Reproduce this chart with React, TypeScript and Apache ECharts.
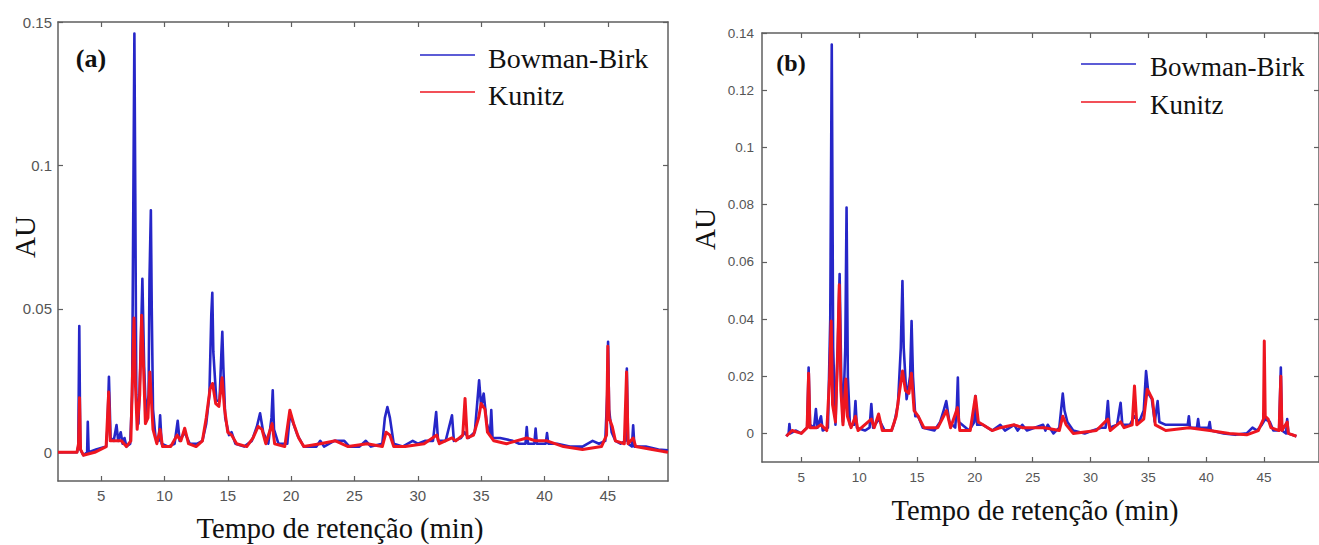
import React, { useEffect, useRef } from "react";
import * as echarts from "echarts";

// ---------- tick values ----------
const xTicks = [5, 10, 15, 20, 25, 30, 35, 40, 45];
const yTicksA = [0, 0.05, 0.1, 0.15];
const yTicksB = [0, 0.02, 0.04, 0.06, 0.08, 0.1, 0.12, 0.14];

// ---------- panel (a) ----------
const aBowmanBirk: [number, number][] = [
  [1.6, 0], [3.1, 0], [3.2, 0.002], [3.28, 0.044], [3.36, 0.001], [3.6, -0.001], [3.9, 0], [3.95, 0.0106], [4.02, 0],
  [4.6, 0.001], [5.4, 0.002], [5.5, 0.008], [5.62, 0.0263], [5.75, 0.005], [6.0, 0.004], [6.22, 0.0095], [6.35, 0.004],
  [6.55, 0.007], [6.7, 0.003], [6.85, 0.005], [7.0, 0.002], [7.3, 0.003], [7.45, 0.02], [7.55, 0.09], [7.63, 0.146],
  [7.7, 0.09], [7.78, 0.02], [7.95, 0.01], [8.1, 0.03], [8.26, 0.0605], [8.4, 0.03], [8.55, 0.012], [8.75, 0.02],
  [8.82, 0.06], [8.93, 0.0844], [9.0, 0.05], [9.1, 0.015], [9.3, 0.005], [9.55, 0.004], [9.66, 0.0129], [9.78, 0.003],
  [10.3, 0.002], [10.8, 0.003], [11.05, 0.011], [11.2, 0.004], [11.6, 0.007], [12.0, 0.003], [12.6, 0.003], [13.0, 0.004],
  [13.3, 0.01], [13.55, 0.02], [13.7, 0.048], [13.78, 0.0556], [13.86, 0.035], [14.1, 0.018], [14.35, 0.018], [14.5, 0.035],
  [14.57, 0.042], [14.65, 0.03], [14.8, 0.012], [15.1, 0.006], [15.3, 0.007], [15.6, 0.003], [16.3, 0.002], [16.9, 0.004],
  [17.3, 0.009], [17.55, 0.0136], [17.8, 0.007], [18.2, 0.003], [18.45, 0.012], [18.55, 0.0216], [18.65, 0.008], [19.0, 0.003],
  [19.7, 0.003], [19.9, 0.013], [20.1, 0.011], [20.5, 0.006], [21.0, 0.002], [22.0, 0.002], [22.3, 0.004], [22.6, 0.002],
  [23.4, 0.004], [23.8, 0.004], [24.2, 0.004], [24.6, 0.002], [25.4, 0.002], [25.9, 0.004], [26.3, 0.002], [27.2, 0.003],
  [27.4, 0.012], [27.6, 0.0158], [27.8, 0.012], [28.1, 0.003], [28.8, 0.002], [29.6, 0.004], [30.0, 0.003], [30.6, 0.004],
  [31.2, 0.004], [31.45, 0.014], [31.6, 0.004], [32.2, 0.004], [32.7, 0.0129], [32.85, 0.004], [33.4, 0.005], [33.7, 0.007],
  [34.0, 0.005], [34.5, 0.007], [34.84, 0.0251], [35.0, 0.016], [35.2, 0.0205], [35.45, 0.01], [35.7, 0.006], [35.8, 0.0147],
  [35.9, 0.005], [36.5, 0.005], [37.5, 0.004], [38.0, 0.003], [38.5, 0.003], [38.6, 0.0088], [38.7, 0.003], [39.2, 0.003],
  [39.3, 0.0083], [39.4, 0.003], [40.1, 0.003], [40.2, 0.0067], [40.3, 0.003], [41.0, 0.003], [42.0, 0.002], [43.0, 0.002],
  [43.8, 0.004], [44.3, 0.003], [44.8, 0.004], [44.95, 0.02], [45.02, 0.0385], [45.1, 0.015], [45.3, 0.007], [45.6, 0.004],
  [46.0, 0.003], [46.4, 0.004], [46.5, 0.0292], [46.6, 0.003], [46.9, 0.002], [47.0, 0.0094], [47.1, 0.002], [48.0, 0.002],
  [49.0, 0.001], [49.75, 0.0007],
];

const aKunitz: [number, number][] = [
  [1.6, 0], [3.1, 0], [3.22, 0.003], [3.3, 0.019], [3.38, 0.001], [3.6, -0.001], [4.5, 0], [5.4, 0.002], [5.6, 0.021],
  [5.72, 0.004], [6.2, 0.004], [6.6, 0.004], [7.0, 0.002], [7.35, 0.004], [7.5, 0.03], [7.6, 0.0468], [7.7, 0.025],
  [7.85, 0.008], [8.05, 0.02], [8.2, 0.0478], [8.35, 0.03], [8.5, 0.01], [8.7, 0.012], [8.85, 0.028], [8.95, 0.02],
  [9.1, 0.008], [9.4, 0.003], [9.66, 0.008], [9.85, 0.002], [10.5, 0.002], [11.0, 0.006], [11.3, 0.004], [11.6, 0.0084],
  [11.9, 0.003], [12.5, 0.002], [13.0, 0.004], [13.3, 0.012], [13.6, 0.022], [13.8, 0.024], [14.05, 0.017], [14.3, 0.016],
  [14.55, 0.026], [14.75, 0.015], [15.0, 0.007], [15.3, 0.006], [15.7, 0.003], [16.5, 0.002], [17.0, 0.005], [17.4, 0.009],
  [17.7, 0.008], [18.0, 0.003], [18.5, 0.01], [18.7, 0.003], [19.5, 0.002], [19.9, 0.0147], [20.2, 0.01], [20.6, 0.005],
  [21.0, 0.002], [22.3, 0.003], [23.5, 0.004], [24.5, 0.002], [26.0, 0.003], [27.2, 0.002], [27.5, 0.007], [27.8, 0.006],
  [28.1, 0.002], [29.0, 0.002], [30.5, 0.003], [31.5, 0.006], [31.7, 0.003], [32.7, 0.005], [33.0, 0.004], [33.55, 0.006],
  [33.73, 0.0188], [33.9, 0.005], [34.4, 0.006], [34.8, 0.012], [35.0, 0.017], [35.3, 0.015], [35.5, 0.007], [36.0, 0.004],
  [37.0, 0.003], [38.6, 0.005], [39.3, 0.004], [40.2, 0.004], [41.5, 0.002], [43.0, 0.001], [44.5, 0.002], [44.9, 0.006],
  [45.0, 0.037], [45.1, 0.012], [45.35, 0.009], [45.6, 0.004], [46.3, 0.003], [46.48, 0.028], [46.6, 0.003], [47.0, 0.005],
  [47.2, 0.002], [48.5, 0.001], [49.75, 0],
];

// ---------- panel (b) ----------
const bBowmanBirk: [number, number][] = [
  [3.7, -0.001], [3.9, 0.0], [3.97, 0.0033], [4.05, 0.0], [4.5, 0.001], [5.0, 0.0], [5.5, 0.002], [5.63, 0.023], [5.75, 0.003],
  [6.1, 0.002], [6.26, 0.0085], [6.4, 0.002], [6.7, 0.006], [6.85, 0.001], [7.3, 0.002], [7.5, 0.04], [7.63, 0.136],
  [7.75, 0.03], [7.95, 0.003], [8.15, 0.03], [8.31, 0.0557], [8.45, 0.02], [8.6, 0.004], [8.8, 0.03], [8.91, 0.079],
  [9.02, 0.02], [9.2, 0.003], [9.55, 0.003], [9.68, 0.0113], [9.8, 0.002], [10.5, 0.001], [10.9, 0.002], [11.05, 0.0103],
  [11.2, 0.002], [11.7, 0.005], [12.2, 0.001], [12.8, 0.001], [13.05, 0.004], [13.35, 0.01], [13.6, 0.03], [13.74, 0.0533],
  [13.85, 0.03], [14.1, 0.012], [14.4, 0.02], [14.53, 0.0393], [14.65, 0.02], [14.85, 0.006], [15.1, 0.006], [15.5, 0.002],
  [16.5, 0.001], [17.0, 0.004], [17.3, 0.008], [17.53, 0.0113], [17.8, 0.004], [18.3, 0.002], [18.45, 0.01], [18.53, 0.0195],
  [18.62, 0.004], [19.5, 0.001], [19.95, 0.004], [20.05, 0.0131], [20.2, 0.003], [20.7, 0.003], [21.5, 0.001], [22.2, 0.003],
  [22.6, 0.001], [23.4, 0.003], [23.7, 0.001], [24.1, 0.003], [24.5, 0.001], [25.9, 0.003], [26.1, 0.001], [26.3, 0.003],
  [26.8, 0.0], [27.3, 0.002], [27.5, 0.01], [27.6, 0.0139], [27.75, 0.008], [28.0, 0.004], [28.5, 0.001], [29.5, 0.0],
  [30.2, 0.001], [30.9, 0.002], [31.3, 0.002], [31.5, 0.0113], [31.65, 0.002], [32.3, 0.003], [32.6, 0.0107], [32.75, 0.003],
  [33.4, 0.003], [33.8, 0.006], [34.2, 0.004], [34.6, 0.008], [34.8, 0.0218], [35.0, 0.014], [35.3, 0.012], [35.55, 0.004],
  [35.8, 0.0113], [35.95, 0.004], [36.5, 0.003], [37.5, 0.003], [38.4, 0.003], [38.5, 0.006], [38.6, 0.002], [39.2, 0.002],
  [39.3, 0.005], [39.4, 0.002], [40.2, 0.002], [40.3, 0.004], [40.4, 0.001], [41.5, 0.0], [42.5, -0.0005], [43.5, 0.0],
  [44.0, 0.002], [44.4, 0.001], [44.8, 0.003], [45.1, 0.005], [45.5, 0.004], [45.8, 0.001], [46.3, 0.001], [46.45, 0.023],
  [46.55, 0.001], [46.9, 0.0], [47.0, 0.005], [47.1, 0.0], [47.8, -0.001],
];

const bKunitz: [number, number][] = [
  [3.7, -0.001], [4.2, 0.001], [5.0, 0.0], [5.5, 0.002], [5.63, 0.021], [5.75, 0.002], [6.3, 0.002], [6.7, 0.003],
  [7.2, 0.001], [7.45, 0.02], [7.58, 0.0393], [7.7, 0.01], [7.95, 0.004], [8.15, 0.03], [8.28, 0.052], [8.42, 0.015],
  [8.6, 0.003], [8.85, 0.019], [8.98, 0.006], [9.3, 0.002], [9.68, 0.006], [9.9, 0.001], [11.05, 0.005], [11.3, 0.002],
  [11.68, 0.0068], [12.0, 0.001], [12.8, 0.001], [13.2, 0.006], [13.5, 0.015], [13.75, 0.0218], [14.0, 0.015], [14.3, 0.014],
  [14.52, 0.021], [14.75, 0.008], [15.1, 0.006], [15.6, 0.002], [16.8, 0.002], [17.3, 0.006], [17.55, 0.008], [17.9, 0.002],
  [18.5, 0.009], [18.7, 0.001], [19.6, 0.001], [20.05, 0.013], [20.3, 0.004], [20.7, 0.003], [21.5, 0.001], [22.2, 0.002],
  [23.4, 0.003], [24.1, 0.002], [26.0, 0.002], [27.3, 0.001], [27.6, 0.006], [27.9, 0.003], [28.5, 0.0], [30.5, 0.001],
  [31.5, 0.005], [31.7, 0.001], [32.6, 0.004], [32.9, 0.002], [33.6, 0.003], [33.8, 0.0166], [34.0, 0.003], [34.6, 0.005],
  [34.9, 0.0154], [35.1, 0.014], [35.35, 0.012], [35.6, 0.003], [36.5, 0.001], [38.5, 0.002], [40.3, 0.001], [42.0, 0.0],
  [43.5, -0.0005], [44.5, 0.001], [44.95, 0.005], [45.02, 0.0323], [45.1, 0.006], [45.35, 0.005], [45.6, 0.002], [46.3, 0.001],
  [46.45, 0.02], [46.55, 0.001], [47.0, 0.004], [47.1, 0.0], [47.8, -0.001],
];

const BLUE = "#2626c8";
const RED = "#ee1620";
const AXIS = "#5f5f5f";
const SERIF = "'Liberation Serif', 'Times New Roman', serif";
const SANS = "'Liberation Sans', Arial, sans-serif";

function makeX(grid: number, pos: "bottom" | "top", fs: number, margin: number) {
  return {
    type: "value",
    gridIndex: grid,
    position: pos,
    min: 1.6,
    max: 49.75,
    axisLine: { show: true, onZero: false, lineStyle: { color: AXIS, width: 1.5 } },
    axisTick: { show: true, inside: true, length: 5, customValues: xTicks, lineStyle: { color: AXIS, width: 1.2 } },
    axisLabel: {
      show: pos === "bottom",
      customValues: xTicks,
      fontFamily: SANS,
      fontSize: fs,
      color: "#555",
      margin,
    },
    splitLine: { show: false },
  };
}

function makeY(grid: number, pos: "left" | "right", ticks: number[], max: number, fs: number, margin: number) {
  return {
    type: "value",
    gridIndex: grid,
    position: pos,
    min: -0.01,
    max,
    axisLine: { show: true, onZero: false, lineStyle: { color: AXIS, width: 1.5 } },
    axisTick: { show: true, inside: true, length: 5, customValues: ticks, lineStyle: { color: AXIS, width: 1.2 } },
    axisLabel: {
      show: pos === "left",
      customValues: ticks,
      fontFamily: SANS,
      fontSize: fs,
      color: "#555",
      margin,
    },
    splitLine: { show: false },
  };
}

function lineSeries(name: string, data: [number, number][], color: string, width: number, xi: number, yi: number, z: number) {
  return {
    name,
    type: "line",
    data,
    xAxisIndex: xi,
    yAxisIndex: yi,
    showSymbol: false,
    symbol: "none",
    lineStyle: { color, width, join: "round" },
    itemStyle: { color },
    z,
  };
}

function txt(text: string, x: number, y: number, size: number, opts: any = {}) {
  return {
    type: "text",
    x,
    y,
    rotation: opts.rotation || 0,
    style: {
      text,
      x: 0,
      y: 0,
      fill: "#111",
      font: `${opts.bold ? "bold " : ""}${size}px ${SERIF}`,
      align: opts.align || "center",
      verticalAlign: "middle",
    },
  };
}

function seg(x1: number, x2: number, y: number, color: string) {
  return { type: "line", shape: { x1, y1: y, x2, y2: y }, style: { stroke: color, lineWidth: 1.6 } };
}

export default function App() {
  const ref = useRef<HTMLDivElement>(null);
  useEffect(() => {
    if (!ref.current) return;
    const chart = echarts.init(ref.current, undefined, { renderer: "svg" });
    chart.setOption({
      animation: false,
      backgroundColor: "#ffffff",
      grid: [
        { left: 58, top: 22, width: 610, height: 459 },
        { left: 762, top: 33, width: 562, height: 429 },
      ],
      xAxis: [
        makeX(0, "bottom", 15, 7),
        makeX(0, "top", 15, 7),
        makeX(1, "bottom", 13.5, 8),
        makeX(1, "top", 13.5, 8),
      ],
      yAxis: [
        makeY(0, "left", yTicksA, 0.15, 15, 6),
        makeY(0, "right", yTicksA, 0.15, 15, 6),
        makeY(1, "left", yTicksB, 0.14, 13.5, 8),
        makeY(1, "right", yTicksB, 0.14, 13.5, 8),
      ],
      series: [
        lineSeries("Bowman-Birk", aBowmanBirk, BLUE, 2.6, 0, 0, 2),
        lineSeries("Kunitz", aKunitz, RED, 3, 0, 0, 3),
        lineSeries("Bowman-Birk", bBowmanBirk, BLUE, 2.6, 2, 2, 2),
        lineSeries("Kunitz", bKunitz, RED, 3, 2, 2, 3),
      ],
      graphic: [
        txt("(a)", 91, 58, 26, { bold: true }),
        seg(420, 475, 55, BLUE),
        seg(420, 475, 92, RED),
        txt("Bowman-Birk", 488, 58, 28, { align: "left" }),
        txt("Kunitz", 488, 95, 28, { align: "left" }),
        txt("AU", 25, 237, 29, { rotation: Math.PI / 2 }),
        txt("Tempo de retenção (min)", 340, 528, 28.5),
        txt("(b)", 791, 63, 24, { bold: true }),
        seg(1081, 1136, 64, BLUE),
        seg(1081, 1136, 102, RED),
        txt("Bowman-Birk", 1150, 67, 27, { align: "left" }),
        txt("Kunitz", 1150, 105, 27, { align: "left" }),
        txt("AU", 705, 229, 29, { rotation: Math.PI / 2 }),
        txt("Tempo de retenção (min)", 1035, 510, 28.5),
      ],
    });
    return () => chart.dispose();
  }, []);
  return (
    <div
      ref={ref}
      style={{ position: "absolute", left: 0, top: 0, width: 1319, height: 545, background: "#fff" }}
    />
  );
}
